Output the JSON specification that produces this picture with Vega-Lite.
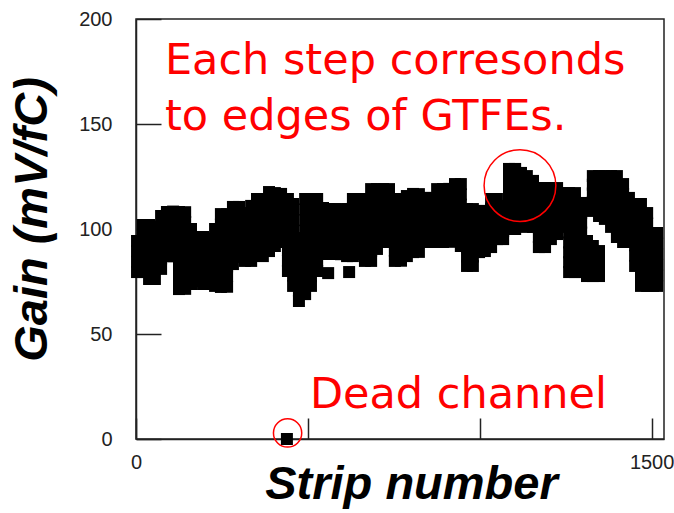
{
  "$schema": "https://vega.github.io/schema/vega-lite/v6.json",
  "width": 528,
  "height": 420,
  "autosize": "none",
  "padding": {"left": 136, "top": 19, "right": 10, "bottom": 74},
  "background": "white",
  "config": {
    "view": {"stroke": "#222", "strokeWidth": 1.5},
    "axis": {
      "grid": false,
      "domainColor": "#222",
      "domainWidth": 1.5,
      "tickColor": "#222",
      "tickWidth": 1.5,
      "labelFont": "Liberation Sans",
      "labelFontSize": 20,
      "labelColor": "#222",
      "titleFont": "Liberation Sans",
      "titleFontSize": 47,
      "titleFontWeight": "bold",
      "titleFontStyle": "italic",
      "titleColor": "black"
    }
  },
  "datasets": {
    "strips": [
      {"strip": 3, "gains": [94.3, 89.4, 84.4, 79.5]},
      {"strip": 20, "gains": [101.9, 97.4, 92.9, 88.5, 84.0, 79.5]},
      {"strip": 38, "gains": [101.9, 97.6, 93.3, 89.0, 84.8, 80.5, 76.2]},
      {"strip": 55, "gains": [101.0, 96.0, 91.1, 86.1, 81.2, 76.2]},
      {"strip": 73, "gains": [106.2, 101.2, 96.1, 91.1, 86.0, 81.0]},
      {"strip": 90, "gains": [108.1, 103.9, 99.7, 95.5, 91.3, 87.1]},
      {"strip": 108, "gains": [108.3, 104.0, 99.5, 95.2, 91.0, 87.0]},
      {"strip": 125, "gains": [108.1, 103.5, 98.9, 94.3, 89.8, 85.2, 80.6, 76.0, 71.4]},
      {"strip": 143, "gains": [108.0, 103.4, 98.8, 94.4, 89.7, 85.0, 80.5, 76.1, 71.5]},
      {"strip": 160, "gains": [100.0, 95.6, 91.3, 86.9, 82.5, 78.2, 73.8]},
      {"strip": 177, "gains": [96.2, 92.0, 87.8, 83.6, 79.4, 75.2]},
      {"strip": 195, "gains": [96.2, 91.7, 87.2, 82.8, 78.3, 73.8]},
      {"strip": 212, "gains": [95.2, 90.9, 86.6, 82.4, 78.1, 73.8]},
      {"strip": 230, "gains": [100.0, 95.5, 91.0, 86.5, 81.9, 77.4, 72.9]},
      {"strip": 247, "gains": [107.1, 102.1, 97.2, 92.2, 87.3, 82.3, 77.4, 72.4]},
      {"strip": 265, "gains": [107.0, 102.0, 97.3, 92.1, 87.4, 82.2, 77.5, 72.5]},
      {"strip": 282, "gains": [110.5, 106.0, 101.4, 96.9, 92.4, 87.8, 83.3]},
      {"strip": 300, "gains": [110.5, 105.7, 101.0, 96.2, 91.5, 86.7]},
      {"strip": 317, "gains": [107.6, 103.0, 98.5, 93.9, 89.4, 84.8]},
      {"strip": 335, "gains": [111.0, 106.6, 102.3, 97.9, 93.5, 89.2, 84.8]},
      {"strip": 352, "gains": [114.3, 109.9, 105.6, 101.2, 96.8, 92.5, 88.1]},
      {"strip": 369, "gains": [114.3, 109.8, 105.2, 100.7, 96.2, 91.6, 87.1]},
      {"strip": 387, "gains": [117.6, 112.9, 108.2, 103.6, 98.9, 94.2, 89.5]},
      {"strip": 404, "gains": [117.1, 112.1, 107.0, 102.0, 96.9, 91.9]},
      {"strip": 422, "gains": [116.7, 112.1, 107.5, 103.0, 98.4, 93.8]},
      {"strip": 439, "gains": [0]},
      {"strip": 442, "gains": [114.3, 109.4, 104.5, 99.6, 94.7, 89.8, 84.9, 80.0]},
      {"strip": 457, "gains": [111.9, 107.0, 102.2, 97.3, 92.4, 87.5, 82.6, 77.8, 72.9]},
      {"strip": 474, "gains": [95.7, 90.7, 85.7, 80.7, 75.7, 70.7, 65.7]},
      {"strip": 492, "gains": [114.3, 109.3, 104.2, 99.2, 94.2, 89.1, 84.1, 79.1, 74.0, 69.0]},
      {"strip": 509, "gains": [114.3, 109.7, 105.1, 100.5, 95.9, 91.3, 86.7, 82.1, 77.5, 72.9]},
      {"strip": 527, "gains": [114.3, 109.4, 104.5, 99.6, 94.7, 89.8, 84.9, 80.0]},
      {"strip": 544, "gains": [110.0, 105.5, 101.0, 96.4, 91.9]},
      {"strip": 559, "gains": [79.0]},
      {"strip": 561, "gains": [109.5, 105.2, 101.0, 96.7, 92.4, 88.1]},
      {"strip": 579, "gains": [109.5, 105.2, 101.0, 96.7, 92.4, 88.1]},
      {"strip": 596, "gains": [109.4, 105.1, 100.9, 96.6, 92.3, 88.0]},
      {"strip": 614, "gains": [109.5, 105.0, 100.5, 96.1, 91.6, 87.1]},
      {"strip": 620, "gains": [79.5]},
      {"strip": 631, "gains": [114.3, 109.8, 105.2, 100.7, 96.2, 91.6, 87.1]},
      {"strip": 649, "gains": [114.3, 109.9, 105.6, 101.2, 96.8, 92.5, 88.1]},
      {"strip": 666, "gains": [114.3, 109.4, 104.5, 99.6, 94.6, 89.7, 84.8]},
      {"strip": 684, "gains": [119.0, 114.1, 109.2, 104.3, 99.5, 94.6, 89.7, 84.8]},
      {"strip": 701, "gains": [119.0, 114.3, 109.5, 104.8, 100.0, 95.3, 90.5]},
      {"strip": 719, "gains": [119.0, 114.0, 108.9, 103.9, 98.8, 93.8]},
      {"strip": 736, "gains": [119.0, 114.0, 108.9, 103.9, 98.8, 93.8]},
      {"strip": 753, "gains": [114.3, 109.4, 104.5, 99.6, 94.6, 89.7, 84.8]},
      {"strip": 771, "gains": [114.2, 109.3, 104.4, 99.5, 94.7, 89.6, 84.9]},
      {"strip": 788, "gains": [115.7, 110.9, 106.2, 101.4, 96.6, 91.9, 87.1]},
      {"strip": 806, "gains": [116.7, 112.1, 107.5, 102.9, 98.2, 93.6, 89.0]},
      {"strip": 823, "gains": [116.6, 112.0, 107.4, 102.8, 98.3, 93.7, 89.1]},
      {"strip": 841, "gains": [114.8, 110.6, 106.4, 102.2, 98.0, 93.8]},
      {"strip": 858, "gains": [114.8, 110.6, 106.4, 102.2, 98.0, 93.8]},
      {"strip": 876, "gains": [119.0, 114.0, 108.9, 103.9, 98.8, 93.8]},
      {"strip": 893, "gains": [119.0, 114.0, 108.9, 103.9, 98.8, 93.8]},
      {"strip": 911, "gains": [119.1, 114.1, 109.0, 104.0, 98.9, 93.9]},
      {"strip": 928, "gains": [121.4, 116.6, 111.9, 107.1, 102.4, 97.6]},
      {"strip": 945, "gains": [121.4, 116.5, 111.6, 106.7, 101.7, 96.8, 91.9]},
      {"strip": 963, "gains": [109.5, 105.0, 100.5, 96.0, 91.4, 86.9, 82.4]},
      {"strip": 980, "gains": [109.5, 105.0, 100.5, 96.0, 91.4, 86.9, 82.4]},
      {"strip": 998, "gains": [108.6, 103.7, 98.8, 93.9, 89.0]},
      {"strip": 1015, "gains": [108.6, 103.8, 99.0, 94.3, 89.5]},
      {"strip": 1033, "gains": [114.3, 109.7, 105.1, 100.6, 96.0, 91.4]},
      {"strip": 1050, "gains": [114.3, 109.5, 104.8, 100.0, 95.2]},
      {"strip": 1068, "gains": [111.0, 107.0, 103.1, 99.1, 95.2]},
      {"strip": 1085, "gains": [128.6, 123.8, 119.1, 114.3, 109.5, 104.8, 100.0]},
      {"strip": 1103, "gains": [128.6, 123.8, 119.1, 114.3, 109.5, 104.8, 100.0]},
      {"strip": 1120, "gains": [126.7, 121.5, 116.2, 111.0]},
      {"strip": 1137, "gains": [125.2, 120.4, 115.5, 110.7, 105.8, 101.0]},
      {"strip": 1155, "gains": [122.9, 118.5, 114.1, 109.8, 105.4, 101.0]},
      {"strip": 1172, "gains": [119.5, 114.8, 110.1, 105.5, 100.8, 96.1, 91.4]},
      {"strip": 1190, "gains": [119.5, 114.8, 110.1, 105.5, 100.8, 96.1, 91.4]},
      {"strip": 1207, "gains": [119.5, 114.6, 109.8, 104.9, 100.1, 95.2]},
      {"strip": 1225, "gains": [119.5, 115.1, 110.7, 106.4, 102.0, 97.6]},
      {"strip": 1242, "gains": [117.1, 113.1, 109.1, 105.0, 101.0]},
      {"strip": 1260, "gains": [117.1, 112.4, 107.7, 103.0, 98.3, 93.6, 88.9, 84.2, 79.5]},
      {"strip": 1277, "gains": [117.1, 112.4, 107.7, 103.0, 98.3, 93.6, 88.9, 84.2, 79.5]},
      {"strip": 1295, "gains": [112.4, 107.7, 103.0, 98.3, 93.6, 88.9, 84.2, 79.5]},
      {"strip": 1312, "gains": [94.3, 90.1, 86.0, 81.8, 77.6]},
      {"strip": 1329, "gains": [125.2, 121.1, 116.9, 112.8, 108.6, 91.9, 87.1, 82.4, 77.6]},
      {"strip": 1347, "gains": [125.2, 120.5, 115.7, 111.0, 106.2, 89.5, 85.5, 81.6, 77.6]},
      {"strip": 1364, "gains": [125.2, 120.1, 115.0, 109.9, 104.8]},
      {"strip": 1382, "gains": [125.2, 120.4, 115.5, 110.7, 105.8, 101.0]},
      {"strip": 1399, "gains": [125.2, 120.4, 115.5, 110.7, 105.9, 101.0, 96.2]},
      {"strip": 1417, "gains": [121.4, 116.8, 112.2, 107.6, 103.0, 98.4, 93.8]},
      {"strip": 1434, "gains": [114.8, 110.6, 106.4, 102.2, 98.0, 93.8]},
      {"strip": 1452, "gains": [111.9, 107.0, 102.1, 97.2, 92.2, 87.3, 82.4]},
      {"strip": 1469, "gains": [111.9, 107.0, 102.2, 97.3, 92.4, 87.5, 82.6, 77.8, 72.9]},
      {"strip": 1487, "gains": [107.6, 102.6, 97.7, 92.7, 87.8, 82.8, 77.9, 72.9]},
      {"strip": 1504, "gains": [98.1, 93.1, 88.0, 83.0, 77.9, 72.9]},
      {"strip": 1516, "gains": [98.1, 93.1, 88.0, 83.0, 77.9, 72.9]}
    ],
    "highlights": [
      {"what": "step", "strip": 1117, "gain": 120.7},
      {"what": "dead", "strip": 441, "gain": 2.9}
    ],
    "notes": [
      {"text": "Each step corresonds", "strip": 84, "gain": 174},
      {"text": "to edges of GTFEs.", "strip": 84, "gain": 147},
      {"text": "Dead channel", "strip": 506, "gain": 14.8}
    ]
  },
  "layer": [
    {
      "data": {"name": "strips"},
      "transform": [{"flatten": ["gains"], "as": ["gain"]}],
      "mark": {"type": "point", "shape": "square", "filled": true, "color": "black", "opacity": 1, "size": 144, "strokeWidth": 0, "clip": false},
      "encoding": {
        "x": {
          "field": "strip",
          "type": "quantitative",
          "scale": {"domain": [0, 1536], "nice": false, "zero": false},
          "axis": {
            "values": [0, 500, 1000, 1500],
            "format": "d",
            "tickSize": -21,
            "labelPadding": 34,
            "labelFlush": false,
            "labelExpr": "datum.value == 0 || datum.value == 1500 ? datum.label : ''",
            "title": "Strip number",
            "titleX": 275,
            "titleY": 59,
            "titleBaseline": "alphabetic",
            "titleAlign": "center"
          }
        },
        "y": {
          "field": "gain",
          "type": "quantitative",
          "scale": {"domain": [0, 200], "nice": false},
          "axis": {
            "values": [0, 50, 100, 150, 200],
            "format": "d",
            "tickSize": -25,
            "labelPadding": 49,
            "labelFlush": false,
            "title": "Gain (mV/fC)",
            "titleAngle": -90,
            "titleX": -104,
            "titleY": 200,
            "titleBaseline": "middle",
            "titleAlign": "center"
          }
        }
      }
    },
    {
      "data": {"name": "highlights"},
      "mark": {"type": "point", "shape": "circle", "filled": false, "color": "#ff0000", "strokeWidth": 1.5, "opacity": 1},
      "encoding": {
        "x": {"field": "strip", "type": "quantitative"},
        "y": {"field": "gain", "type": "quantitative"},
        "size": {"field": "what", "type": "nominal", "scale": {"domain": ["step", "dead"], "range": [5150, 800]}, "legend": null}
      }
    },
    {
      "data": {"name": "notes"},
      "mark": {"type": "text", "align": "left", "baseline": "alphabetic", "font": "DejaVu Sans", "fontSize": 43, "color": "#ff0000"},
      "encoding": {
        "x": {"field": "strip", "type": "quantitative"},
        "y": {"field": "gain", "type": "quantitative"},
        "text": {"field": "text"}
      }
    }
  ]
}
